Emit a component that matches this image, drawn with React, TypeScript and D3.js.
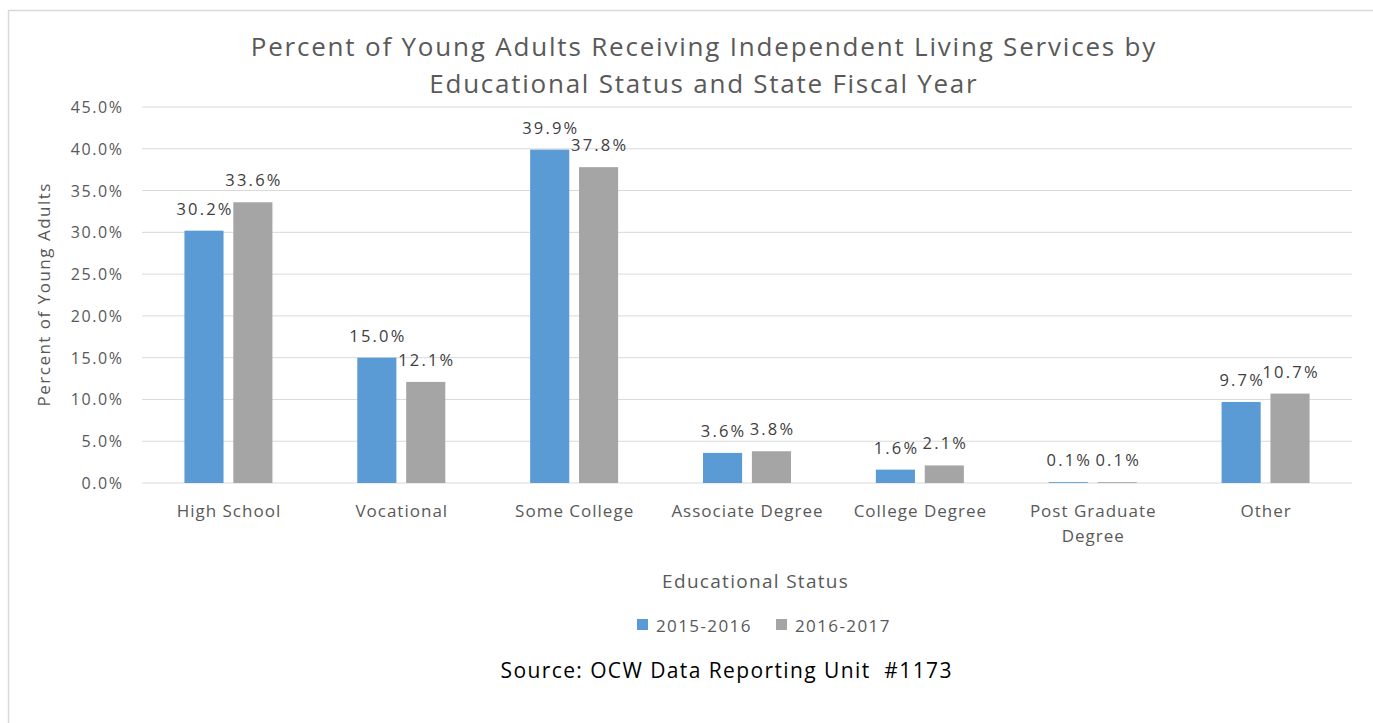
import React from "react";
import * as d3 from "d3";

const categories = ["High School", "Vocational", "Some College", "Associate Degree", "College Degree", "Post Graduate Degree", "Other"];
const categoryLines = [["High School"], ["Vocational"], ["Some College"], ["Associate Degree"], ["College Degree"], ["Post Graduate", "Degree"], ["Other"]];
const seriesNames = ["2015-2016", "2016-2017"];
const series2015 = [30.2, 15.0, 39.9, 3.6, 1.6, 0.1, 9.7];
const series2016 = [33.6, 12.1, 37.8, 3.8, 2.1, 0.1, 10.7];
const yTicks = [0, 5, 10, 15, 20, 25, 30, 35, 40, 45];
const colors = ["#5B9BD5", "#A5A5A5"];

const FONT = "'Open Sans', sans-serif";

function T(props: any) {
  const { ls = 0, anchor = "start", x, y, children, ...rest } = props;
  const dx = anchor === "middle" ? ls / 2 : anchor === "end" ? ls : 0;
  return (
    <text x={x + dx} y={y} textAnchor={anchor} letterSpacing={ls} {...rest}>{children}</text>
  );
}

export default function App() {
  const W = 1373, H = 723;
  const x0 = 142, x1 = 1352, yTop = 107, yBot = 483;
  const x = d3.scaleBand<string>().domain(categories).range([x0, x1]).paddingInner(0).paddingOuter(0);
  const y = d3.scaleLinear().domain([0, 45]).range([yBot, yTop]);
  const groupW = 88;
  const inner = d3.scaleBand<string>().domain(seriesNames).range([0, groupW]).paddingInner(0.2);
  const data = [series2015, series2016];

  return (
    <svg width={W} height={H} style={{ display: "block", position: "absolute", left: 0, top: 0 }} fontFamily={FONT}>
      <rect x={0} y={0} width={W} height={H} fill="#fff" />
      <rect x={8.5} y={10.5} width={W + 20} height={H + 20} fill="none" stroke="#D9D9D9" strokeWidth={1.5} />
      <T x={703} y={56} anchor="middle" ls={1.8} fontSize={26} fill="#595959">Percent of Young Adults Receiving Independent Living Services by</T>
      <T x={703} y={93} anchor="middle" ls={1.75} fontSize={26} fill="#595959">Educational Status and State Fiscal Year</T>
      {yTicks.map((t) => (
        <g key={t}>
          <line x1={x0} x2={x1} y1={y(t)} y2={y(t)} stroke="#D9D9D9" strokeWidth={1} />
          <T x={122} y={y(t) + 6} anchor="end" ls={1.6} fontSize={16} fill="#595959">{t.toFixed(1) + "%"}</T>
        </g>
      ))}
      <g transform={`translate(50,${295}) rotate(-90)`}>
        <T x={0} y={0} anchor="middle" ls={1.5} fontSize={17} fill="#595959">Percent of Young Adults</T>
      </g>
      {categories.map((c, i) => {
        const cx = (x(c) as number) + x.bandwidth() / 2;
        const gx = cx - groupW / 2;
        return (
          <g key={c}>
            {data.map((s, j) => {
              const bx = gx + (inner(seriesNames[j]) as number);
              const bw = inner.bandwidth();
              return (
                <g key={j}>
                  <rect x={bx} y={y(s[i])} width={bw} height={yBot - y(s[i])} fill={colors[j]} />
                  <T x={bx + bw / 2} y={y(s[i]) - 16} anchor="middle" ls={2.2} fontSize={16.5} fill="#404040">{s[i].toFixed(1) + "%"}</T>
                </g>
              );
            })}
            {categoryLines[i].map((ln, k) => (
              <T key={k} x={cx} y={517 + k * 25} anchor="middle" ls={1} fontSize={17} fill="#595959">{ln}</T>
            ))}
          </g>
        );
      })}
      <T x={755} y={588} anchor="middle" ls={1.3} fontSize={19} fill="#595959">Educational Status</T>
      <rect x={637} y={619} width={11} height={11} fill={colors[0]} />
      <T x={656} y={632} ls={1.4} fontSize={17} fill="#595959">{seriesNames[0]}</T>
      <rect x={776} y={619} width={11} height={11} fill={colors[1]} />
      <T x={795} y={632} ls={1.4} fontSize={17} fill="#595959">{seriesNames[1]}</T>
      <T x={726} y={678} anchor="middle" ls={1.4} fontSize={21} fill="#000">{"Source: OCW Data Reporting Unit\u00A0 #1173"}</T>
    </svg>
  );
}
